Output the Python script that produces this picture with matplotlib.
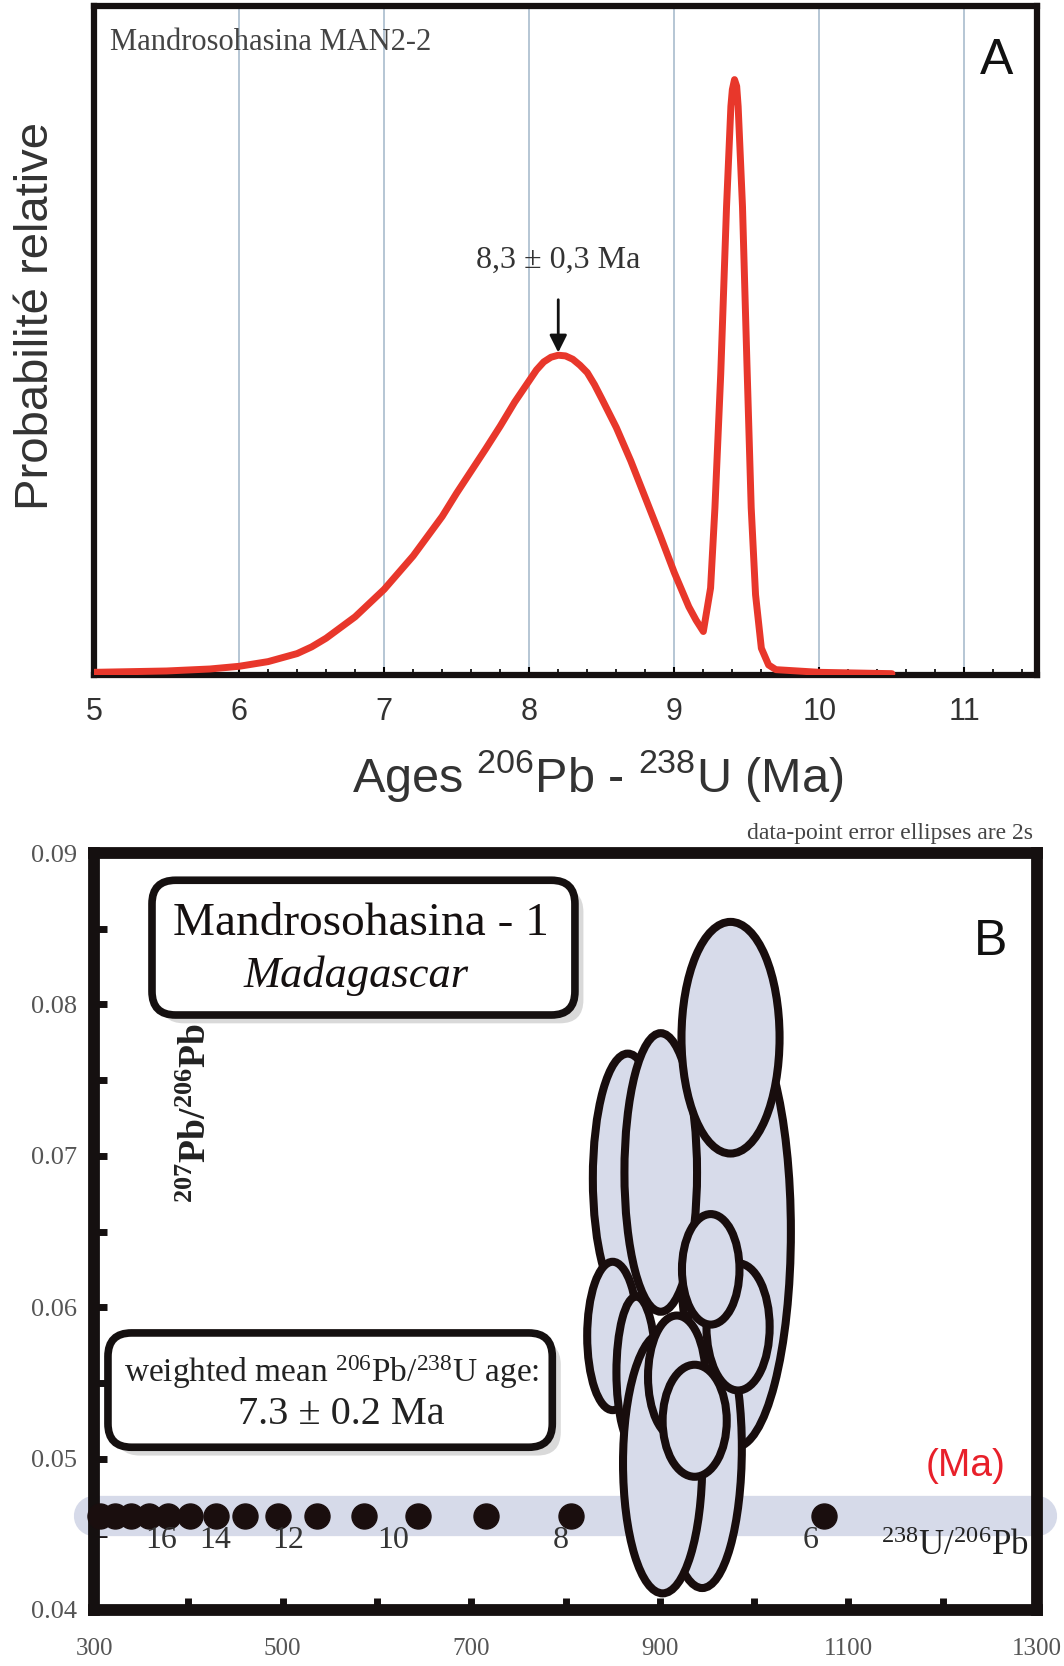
import matplotlib
matplotlib.use("Agg")
import matplotlib.pyplot as plt
from matplotlib.patches import Ellipse, FancyBboxPatch

plt.rcParams['font.family'] = ['Liberation Serif', 'DejaVu Serif']
plt.rcParams['mathtext.default'] = 'regular'
SANS = ['Liberation Sans', 'DejaVu Sans']
SERIF = ['Liberation Serif', 'DejaVu Serif']

# ---- panel A : relative probability curve (ages in Ma)
age = [5.0, 5.5, 5.8, 6.0, 6.2, 6.4, 6.5, 6.6, 6.8, 7.0, 7.2, 7.4, 7.5, 7.6, 7.7, 7.8,
       7.9, 8.0, 8.05, 8.1, 8.15, 8.2, 8.25, 8.3, 8.35, 8.4, 8.45, 8.5, 8.6, 8.7,
       8.8, 8.9, 9.0, 9.1, 9.15, 9.2, 9.25, 9.28, 9.32, 9.36, 9.39, 9.40, 9.415,
       9.43, 9.44, 9.47, 9.5, 9.53, 9.56, 9.6, 9.65, 9.7, 10.0, 10.5]
prob = [0.004, 0.006, 0.009, 0.013, 0.02, 0.032, 0.042, 0.055, 0.087, 0.128, 0.178,
        0.237, 0.272, 0.305, 0.338, 0.372, 0.408, 0.44, 0.456, 0.468, 0.475, 0.478,
        0.477, 0.472, 0.463, 0.452, 0.434, 0.413, 0.37, 0.32, 0.265, 0.21, 0.153,
        0.102, 0.082, 0.065, 0.13, 0.25, 0.45, 0.70, 0.85, 0.875, 0.89, 0.88, 0.85,
        0.70, 0.47, 0.25, 0.12, 0.04, 0.015, 0.008, 0.004, 0.002]
peak_age = 8.2
peak_prob = 0.478

# ---- panel B : Tera-Wasserburg diagram
# error ellipses: centre (238U/206Pb, 207Pb/206Pb) and full width / height
ell_x = [980, 866, 850, 875, 945, 901, 975, 983, 954, 903, 918, 937]
ell_y = [0.0650, 0.0685, 0.0581, 0.0557, 0.0507, 0.0689, 0.0778, 0.0587, 0.0625, 0.0497, 0.0554, 0.0525]
ell_w = [118, 74, 54, 42, 84, 77, 104, 67, 61, 84, 61, 68]
ell_h = [0.0285, 0.0165, 0.0098, 0.0100, 0.0185, 0.0184, 0.0153, 0.0084, 0.0073, 0.0172, 0.0081, 0.0074]

# concordia (band) and its age marks
conc_x = [300, 1300]
conc_y = [0.0462, 0.0462]
mark_x = [1074, 921, 806, 716, 644, 586, 537, 495, 460, 429, 402, 379, 358, 339, 322, 306]
mark_y = 0.0462
mark_lbl = ['6', '8', '10', '12', '14', '16']
mark_lbl_x = [1060, 795, 617, 506, 428, 371]
mark_lbl_y = 0.0446

fig = plt.figure(figsize=(10.64, 16.66), dpi=100)

# ================= panel A
axA = fig.add_axes([94 / 1064, 1 - 675 / 1666, 943 / 1064, 669 / 1666])
axA.set_xlim(5, 11.5)
axA.set_ylim(0, 1)
axA.plot(age, prob, color='#e8372b', lw=5, solid_capstyle='round', solid_joinstyle='round', zorder=3)
axA.set_xticks(range(5, 12))
axA.set_xticks([5 + 0.2 * i for i in range(33)], minor=True)
axA.set_yticks([])
axA.grid(axis='x', color='#a9bccd', lw=1.2, zorder=0)
axA.tick_params(axis='x', which='major', direction='in', length=6, width=1.5,
                labelsize=22, labelcolor='#333333', pad=16)
axA.tick_params(axis='x', which='minor', direction='in', length=4, width=1.2)
for lbl in axA.get_xticklabels():
    lbl.set_fontfamily(SANS)
for sp in axA.spines.values():
    sp.set_linewidth(4.5)
    sp.set_color('#151010')

axA.text(5.11, 0.946, 'Mandrosohasina MAN2-2', fontsize=22, color='#444444',
         ha='left', va='center', family=SERIF)
axA.text(11.22, 0.918, 'A', fontsize=36, color='#111111', ha='center', va='center', family=SANS)
axA.annotate('8,3 \u00b1 0,3 Ma', xy=(peak_age, peak_prob + 0.004), xytext=(peak_age, 0.62),
             ha='center', va='center', fontsize=23, color='#333333', family=SERIF,
             arrowprops=dict(arrowstyle='-|>', color='#111111', lw=2, mutation_scale=26,
                             shrinkA=16, shrinkB=0))
axA.text(-0.062, 0.537, 'Probabilit\u00e9 relative', transform=axA.transAxes, rotation=90,
         ha='center', va='center', fontsize=34, color='#333333', family=SANS)
axA.text(0.534, -0.151, 'Ages $^{206}$Pb - $^{238}$U (Ma)', transform=axA.transAxes,
         ha='center', va='center', fontsize=35, color='#333333', family=SANS)

# ================= panel B
axB = fig.add_axes([94 / 1064, 1 - 1610 / 1666, 943 / 1064, 757 / 1666])
axB.set_xlim(300, 1300)
axB.set_ylim(0.04, 0.09)
axB.set_xticks(range(300, 1301, 200))
axB.set_xticks(range(400, 1300, 200), minor=True)
axB.set_yticks([0.04, 0.05, 0.06, 0.07, 0.08, 0.09])
axB.set_yticklabels(['0.04', '0.05', '0.06', '0.07', '0.08', '0.09'])
axB.set_yticks([0.045, 0.055, 0.065, 0.075, 0.085], minor=True)
axB.tick_params(which='both', direction='in', length=9, width=5, color='#151010')
axB.tick_params(axis='x', which='major', labelsize=18, labelcolor='#555555', pad=20)
axB.tick_params(axis='y', which='major', labelsize=19, labelcolor='#555555', pad=12)
for sp in axB.spines.values():
    sp.set_linewidth(8.5)
    sp.set_color('#151010')

axB.plot(conc_x, conc_y, color='#d6dae9', lw=29, solid_capstyle='round', clip_on=False, zorder=2)
axB.plot(mark_x, [mark_y] * len(mark_x), 'o', color='#1a0e0e', ms=18, zorder=3, clip_on=False)
for lx, lt in zip(mark_lbl_x, mark_lbl):
    axB.text(lx, mark_lbl_y, lt, fontsize=23, color='#333333', ha='center', va='center')

for i in range(len(ell_x)):
    e = Ellipse((ell_x[i], ell_y[i]), ell_w[i], ell_h[i], facecolor='#d7dbea',
                edgecolor='#180d0d', lw=5.8, zorder=4 + i)
    axB.add_patch(e)

# label boxes (axes fraction)
asp = 943 / 757
for (x0, y0, w, h) in [(0.0615, 0.786, 0.4485, 0.178), (0.0148, 0.215, 0.4712, 0.151)]:
    shadow = FancyBboxPatch((x0 + 0.009, y0 - 0.011), w, h, transform=axB.transAxes,
                            boxstyle='round,pad=0,rounding_size=0.025', mutation_aspect=asp,
                            facecolor='#d9d9d9', edgecolor='none', zorder=20)
    box = FancyBboxPatch((x0, y0), w, h, transform=axB.transAxes,
                         boxstyle='round,pad=0,rounding_size=0.025', mutation_aspect=asp,
                         facecolor='white', edgecolor='#151010', lw=5.5, zorder=21)
    axB.add_patch(shadow)
    axB.add_patch(box)

axB.text(583, 0.08458, 'Mandrosohasina - 1', fontsize=34, color='#151010', ha='center',
         va='baseline', zorder=22)
axB.text(578, 0.08115, 'Madagascar', fontsize=32, fontstyle='italic', color='#151010',
         ha='center', va='baseline', zorder=22)
axB.text(552, 0.05506, 'weighted mean $^{206}$Pb/$^{238}$U age:', fontsize=24,
         color='#222222', ha='center', va='baseline', zorder=22)
axB.text(562, 0.05229, '7.3 \u00b1 0.2 Ma', fontsize=29, color='#222222', ha='center',
         va='baseline', zorder=22)

axB.text(1251, 0.0841, 'B', fontsize=36, color='#111111', ha='center', va='center', family=SANS)
axB.text(1224, 0.0495, '(Ma)', fontsize=28, color='#e8202a', ha='center', va='center', family=SANS)
axB.text(1213, 0.0442, '$^{238}$U/$^{206}$Pb', fontsize=25, color='#222222', ha='center', va='center')
axB.text(409, 0.0728, '$^{207}$Pb/$^{206}$Pb', fontsize=27, fontweight='bold', color='#222222',
         rotation=90, ha='center', va='center', zorder=23)
axB.text(1296, 0.0909, 'data-point error ellipses are 2s', fontsize=17, color='#444444',
         ha='right', va='baseline', clip_on=False)

fig.savefig('out.png', dpi=100)
